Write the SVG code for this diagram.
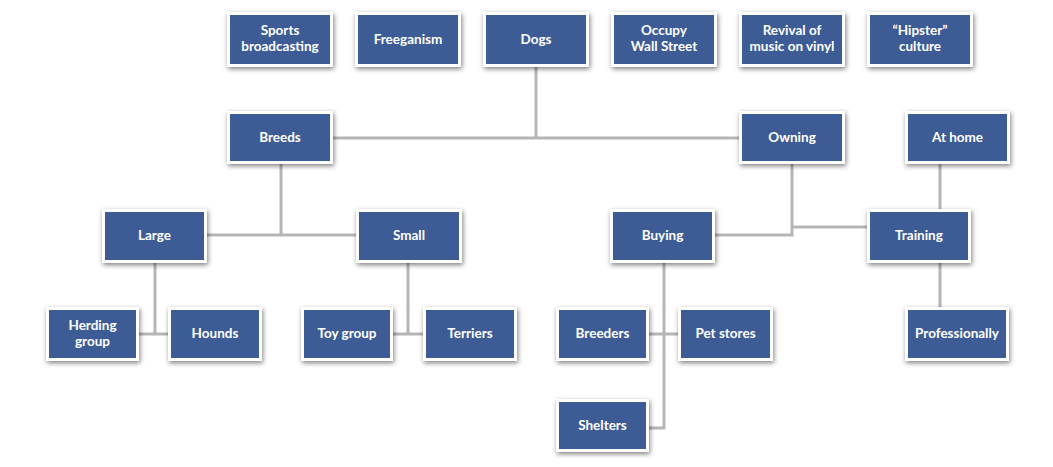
<svg xmlns="http://www.w3.org/2000/svg" width="1053" height="467" viewBox="0 0 1053 467">
<defs>
<filter id="sh" x="-20%" y="-20%" width="140%" height="150%">
<feDropShadow dx="1" dy="2" stdDeviation="2.5" flood-color="#000" flood-opacity="0.5"/>
</filter>
<style>
.b{fill:#3c5b95;stroke:#fff;stroke-width:3;filter:url(#sh)}
.t{fill:#fff;font-family:Lato,"Open Sans",sans-serif;font-weight:700;font-size:13.5px;text-anchor:middle}
.c{fill:none;stroke:#b5b5b5;stroke-width:3}
</style>
</defs>
<rect width="1053" height="467" fill="#fff"/>
<g id="connectors" class="c">
<path d="M536 67V138M333 138H739"/>
<path d="M281 164V235M207 235H356"/>
<path d="M155 263V334M139 334H168"/>
<path d="M408 263V334M393 334H423"/>
<path d="M792 164V235H715M792 227H867"/>
<path d="M664 263V428H649M649 334H678"/>
<path d="M940 164V209M940 263V307"/>
</g>
<g id="sports"><rect class="b" x="228.5" y="13.5" width="103" height="52"/><text class="t" x="280" y="35">Sports</text><text class="t" x="280" y="51">broadcasting</text></g>
<g id="freeganism"><rect class="b" x="356.5" y="13.5" width="103" height="52"/><text class="t" x="408" y="44">Freeganism</text></g>
<g id="dogs"><rect class="b" x="484.5" y="13.5" width="103" height="52"/><text class="t" x="536" y="44">Dogs</text></g>
<g id="occupy"><rect class="b" x="612.5" y="13.5" width="103" height="52"/><text class="t" x="664" y="35">Occupy</text><text class="t" x="664" y="51">Wall Street</text></g>
<g id="revival"><rect class="b" x="740.5" y="13.5" width="103" height="52"/><text class="t" x="792" y="35">Revival of</text><text class="t" x="792" y="51">music on vinyl</text></g>
<g id="hipster"><rect class="b" x="868.5" y="13.5" width="103" height="52"/><text class="t" x="920" y="35">“Hipster”</text><text class="t" x="920" y="51">culture</text></g>
<g id="breeds"><rect class="b" x="228.5" y="112.5" width="103" height="50"/><text class="t" x="280" y="142">Breeds</text></g>
<g id="owning"><rect class="b" x="740.5" y="112.5" width="103" height="50"/><text class="t" x="792" y="142">Owning</text></g>
<g id="athome"><rect class="b" x="906.5" y="112.5" width="102" height="50"/><text class="t" x="957.5" y="142">At home</text></g>
<g id="large"><rect class="b" x="103.5" y="210.5" width="102" height="51"/><text class="t" x="154.5" y="240">Large</text></g>
<g id="small"><rect class="b" x="357.5" y="210.5" width="103" height="51"/><text class="t" x="409" y="240">Small</text></g>
<g id="buying"><rect class="b" x="611.5" y="210.5" width="102" height="51"/><text class="t" x="662.5" y="240">Buying</text></g>
<g id="training"><rect class="b" x="868.5" y="210.5" width="101" height="51"/><text class="t" x="919" y="240">Training</text></g>
<g id="herding"><rect class="b" x="47.5" y="308.5" width="90" height="51"/><text class="t" x="92.5" y="330">Herding</text><text class="t" x="92.5" y="346">group</text></g>
<g id="hounds"><rect class="b" x="169.5" y="308.5" width="91" height="51"/><text class="t" x="215" y="338">Hounds</text></g>
<g id="toy"><rect class="b" x="302.5" y="308.5" width="89" height="51"/><text class="t" x="347" y="338">Toy group</text></g>
<g id="terriers"><rect class="b" x="424.5" y="308.5" width="91" height="51"/><text class="t" x="470" y="338">Terriers</text></g>
<g id="breeders"><rect class="b" x="557.5" y="308.5" width="90" height="51"/><text class="t" x="602.5" y="338">Breeders</text></g>
<g id="petstores"><rect class="b" x="679.5" y="308.5" width="92" height="51"/><text class="t" x="725.5" y="338">Pet stores</text></g>
<g id="professionally"><rect class="b" x="906.5" y="308.5" width="101" height="51"/><text class="t" x="957" y="338">Professionally</text></g>
<g id="shelters"><rect class="b" x="557.5" y="400.5" width="90" height="50"/><text class="t" x="602.5" y="430">Shelters</text></g>
</svg>
